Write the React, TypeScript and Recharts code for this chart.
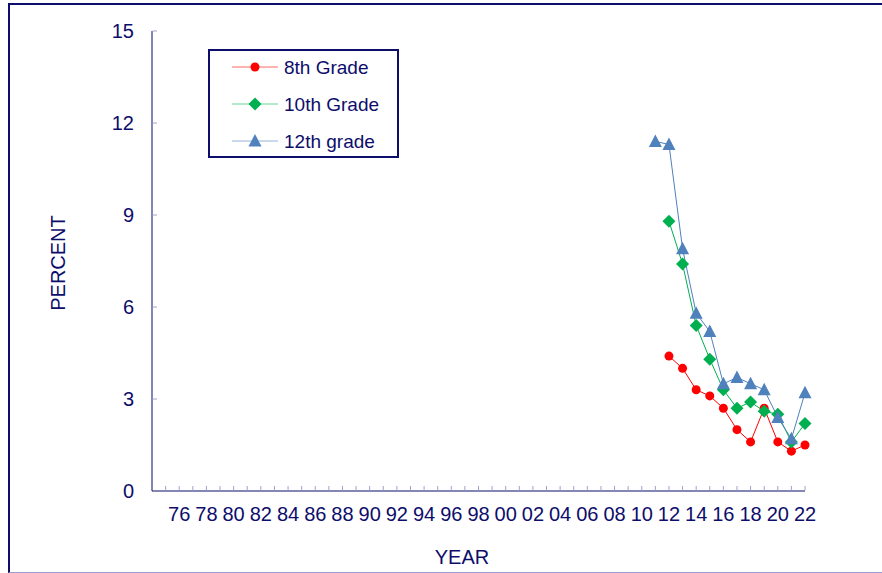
import React from 'react';
import { LineChart, Line, XAxis, YAxis, Legend, Label } from 'recharts';

const years = [2011, 2012, 2013, 2014, 2015, 2016, 2017, 2018, 2019, 2020, 2021, 2022];
const grade8 = [null, 4.4, 4.0, 3.3, 3.1, 2.7, 2.0, 1.6, 2.7, 1.6, 1.3, 1.5];
const grade10 = [null, 8.8, 7.4, 5.4, 4.3, 3.3, 2.7, 2.9, 2.6, 2.5, 1.6, 2.2];
const grade12 = [11.4, 11.3, 7.9, 5.8, 5.2, 3.5, 3.7, 3.5, 3.3, 2.4, 1.7, 3.2];

const xTicks = [
  1975, 1976, 1977, 1978, 1979, 1980, 1981, 1982, 1983, 1984, 1985, 1986,
  1987, 1988, 1989, 1990, 1991, 1992, 1993, 1994, 1995, 1996, 1997, 1998,
  1999, 2000, 2001, 2002, 2003, 2004, 2005, 2006, 2007, 2008, 2009, 2010,
  2011, 2012, 2013, 2014, 2015, 2016, 2017, 2018, 2019, 2020, 2021, 2022,
];
const yTicks = [0, 3, 6, 9, 12, 15];

const seriesNames = ['8th Grade', '10th Grade', '12th grade'];

const data = years.map((y, i) => ({
  year: y,
  g8: grade8[i],
  g10: grade10[i],
  g12: grade12[i],
}));

const NAVY = '#0d0d6b';
const TICK = '#a0a0d0';
const RED = '#ff0000';
const GREEN = '#00b050';
const BLUE = '#4f81bd';
const FONT = 'Arial, "Liberation Sans", sans-serif';
const FS = 20;

const Circle = ({ cx, cy }: any) => <circle cx={cx} cy={cy} r={4.5} fill={RED} />;
const Diamond = ({ cx, cy }: any) => (
  <path d={`M${cx},${cy - 6.5}L${cx + 6.5},${cy}L${cx},${cy + 6.5}L${cx - 6.5},${cy}Z`} fill={GREEN} />
);
const Triangle = ({ cx, cy }: any) => (
  <path d={`M${cx},${cy - 7}L${cx + 6.5},${cy + 5.5}L${cx - 6.5},${cy + 5.5}Z`} fill={BLUE} />
);

const makeDot = (Shape: any) => (props: any) => {
  const { cx, cy, index, value } = props;
  if (value == null || cx == null || cy == null) return <g key={`e${index}`} />;
  return <g key={`d${index}`}><Shape cx={cx} cy={cy} /></g>;
};

const XTick = (props: any) => {
  const { x, y, payload } = props;
  const v = payload.value as number;
  const show = v % 2 === 0;
  const label = String(v).slice(2);
  return (
    <g>
      <line x1={x} x2={x} y1={y - 16.5} y2={y - 21} stroke={TICK} strokeWidth={1} />
      {show && (
        <text x={x} y={y} dy="0.71em" textAnchor="middle" fill={NAVY} fontSize={FS} fontFamily={FONT}>
          {label}
        </text>
      )}
    </g>
  );
};

const YTick = (props: any) => {
  const { x, y, payload } = props;
  return (
    <g>
      {payload.value !== 0 && (
        <line x1={x + 18.5} x2={x + 23} y1={y} y2={y} stroke={TICK} strokeWidth={1} />
      )}
      <text x={x} y={y} dy="0.355em" textAnchor="end" fill={NAVY} fontSize={FS} fontFamily={FONT}>
        {payload.value}
      </text>
    </g>
  );
};

const LegendBox = () => {
  const rows = [
    { name: seriesNames[0], color: RED, Shape: Circle },
    { name: seriesNames[1], color: GREEN, Shape: Diamond },
    { name: seriesNames[2], color: BLUE, Shape: Triangle },
  ];
  return (
    <div style={{ width: 191, height: 109, border: `2px solid ${NAVY}`, boxSizing: 'border-box', background: '#fff' }}>
      <svg width={187} height={105} style={{ display: 'block' }}>
        {rows.map((r, i) => {
          const cy = 16 + i * 37;
          return (
            <g key={r.name}>
              <line x1={22} x2={68} y1={cy} y2={cy} stroke={r.color} strokeWidth={1} strokeOpacity={0.6} />
              <r.Shape cx={45} cy={cy} />
              <text x={74} y={cy} dy="0.355em" fill={NAVY} fontSize={19} fontFamily={FONT}>
                {r.name}
              </text>
            </g>
          );
        })}
      </svg>
    </div>
  );
};

export default function App() {
  return (
    <div style={{ position: 'absolute', left: 0, top: 0, width: 882, height: 573, background: '#fff', overflow: 'hidden' }}>
      <div
        style={{
          position: 'absolute',
          left: 8,
          top: 3,
          width: 900,
          height: 567,
          borderTop: `2px solid ${NAVY}`,
          borderLeft: `2px solid ${NAVY}`,
          borderBottom: `1px solid ${TICK}`,
          boxSizing: 'content-box',
        }}
      />
      <div style={{ position: 'absolute', left: 0, top: 0 }}>
        <LineChart
          width={882}
          height={573}
          data={data}
          margin={{ top: 31, right: 77, left: 151, bottom: 52 }}
        >
          <XAxis
            dataKey="year"
            type="number"
            domain={[1974, 2022]}
            ticks={xTicks}
            interval={0}
            height={30}
            stroke={NAVY}
            tickLine={false}
            tickSize={0}
            tickMargin={16}
            tick={<XTick />}
          >
            <Label
              content={() => (
                <text x={462} y={557} dy="0.355em" textAnchor="middle" fill={NAVY} fontSize={FS} fontFamily={FONT}>
                  YEAR
                </text>
              )}
            />
          </XAxis>
          <YAxis
            type="number"
            domain={[0, 15]}
            ticks={yTicks}
            interval={0}
            width={1}
            stroke={NAVY}
            tickLine={false}
            tickSize={0}
            tickMargin={18}
            tick={<YTick />}
          >
            <Label
              content={() => (
                <text
                  x={58}
                  y={263}
                  dy="0.355em"
                  textAnchor="middle"
                  fill={NAVY}
                  fontSize={FS}
                  fontFamily={FONT}
                  transform="rotate(-90 58 263)"
                >
                  PERCENT
                </text>
              )}
            />
          </YAxis>
          <Legend
            layout="horizontal"
            verticalAlign="middle"
            align="center"
            content={<LegendBox />}
            wrapperStyle={{ left: 208, top: 49, width: 191, height: 109 }}
          />
          <Line
            name={seriesNames[0]}
            dataKey="g8"
            stroke={RED}
            strokeWidth={1}
            dot={makeDot(Circle)}
            activeDot={false}
            isAnimationActive={false}
          />
          <Line
            name={seriesNames[1]}
            dataKey="g10"
            stroke={GREEN}
            strokeWidth={1}
            dot={makeDot(Diamond)}
            activeDot={false}
            isAnimationActive={false}
          />
          <Line
            name={seriesNames[2]}
            dataKey="g12"
            stroke={BLUE}
            strokeWidth={1}
            dot={makeDot(Triangle)}
            activeDot={false}
            isAnimationActive={false}
          />
        </LineChart>
      </div>
    </div>
  );
}
